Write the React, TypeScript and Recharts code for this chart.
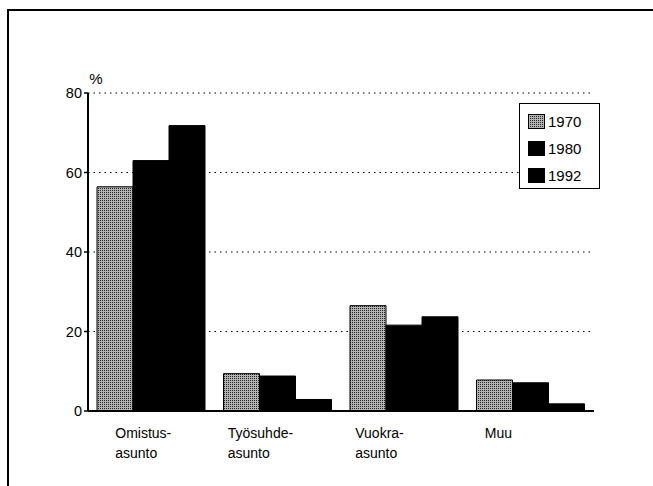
import React from "react";
import { BarChart, Bar, XAxis, YAxis, CartesianGrid } from "recharts";

// Asuntojen hallintamuoto, %
const categories = [
  ["Omistus-", "asunto"],
  ["Työsuhde-", "asunto"],
  ["Vuokra-", "asunto"],
  ["Muu"],
];
const years = ["1970", "1980", "1992"];
const v1970 = [56.4, 9.4, 26.5, 7.8];
const v1980 = [63.0, 8.8, 21.6, 7.1];
const v1992 = [71.8, 2.9, 23.7, 1.8];
const yTicks = [0, 20, 40, 60, 80];

const data = categories.map((c, i) => ({
  name: c.join(" "),
  lines: c,
  y1970: v1970[i],
  y1980: v1980[i],
  y1992: v1992[i],
}));

const FONT = "'Liberation Sans', Arial, Helvetica, sans-serif";
const fills = ["url(#stipple)", "#000", "#000"];
const labelShift = [36, 50, 49, 46];

function CategoryTick(props: any) {
  const { x, y, payload, index } = props;
  const lines: string[] = data[index]?.lines ?? [payload.value];
  const sx = x - labelShift[index];
  return (
    <text x={sx} y={y} fill="#000" fontSize={14} fontFamily={FONT} textAnchor="start">
      {lines.map((l, i) => (
        <tspan key={i} x={sx} dy={i === 0 ? 19 : 20}>
          {l}
        </tspan>
      ))}
    </text>
  );
}

function LegendBox() {
  return (
    <div
      style={{
        position: "absolute",
        left: 519,
        top: 103,
        width: 81,
        height: 86,
        border: "1.5px solid #000",
        boxSizing: "border-box",
        background: "#fff",
        paddingTop: 4,
        fontFamily: FONT,
      }}
    >
      {years.map((y, i) => (
        <div key={y} style={{ display: "flex", alignItems: "center", height: 27, paddingLeft: 8 }}>
          <svg width={17} height={15} style={{ marginRight: 3 }}>
            <rect x={0.5} y={0.5} width={16} height={14} fill={fills[i]} stroke="#000" />
          </svg>
          <span style={{ fontSize: 15, color: "#000" }}>{y}</span>
        </div>
      ))}
    </div>
  );
}

export default function App() {
  return (
    <div style={{ position: "absolute", left: 0, top: 0, width: 653, height: 486, background: "#fff" }}>
      <svg width={0} height={0} style={{ position: "absolute" }}>
        <defs>
          <pattern id="stipple" width="2" height="2" patternUnits="userSpaceOnUse">
            <rect x="0" y="0" width="2" height="2" fill="#b4b4b4" />
            <rect x="0" y="0" width="1" height="1" fill="#222" />
          </pattern>
        </defs>
      </svg>
      <div
        style={{
          position: "absolute",
          left: 7,
          top: 9,
          width: 646,
          height: 477,
          borderLeft: "2px solid #000",
          borderTop: "2px solid #000",
          boxSizing: "border-box",
        }}
      />
      <BarChart
        width={653}
        height={486}
        data={data}
        margin={{ top: 93, right: 59, bottom: 0, left: 0 }}
        barCategoryGap={9}
        barGap={0}
      >
        <CartesianGrid
          vertical={false}
          stroke="#000"
          strokeDasharray="1.5 4"
          strokeWidth={1.2}
          horizontalValues={[20, 40, 60, 80]}
        />
        <XAxis
          dataKey="name"
          tick={<CategoryTick />}
          tickLine={false}
          axisLine={{ stroke: "#000", strokeWidth: 2 }}
          interval={0}
          height={75}
        />
        <YAxis
          domain={[0, 80]}
          ticks={yTicks}
          width={88}
          tickSize={4}
          tickMargin={2}
          tickLine={{ stroke: "#000", strokeWidth: 1.5 }}
          axisLine={{ stroke: "#000", strokeWidth: 2 }}
          tick={{ fill: "#000", fontSize: 14.5, fontFamily: FONT }}
          label={{ value: "%", position: "top", dx: 52, dy: -4, fill: "#000", fontSize: 15, fontFamily: FONT }}
        />
        <Bar dataKey="y1970" name="1970" fill="url(#stipple)" stroke="#000" strokeWidth={1} isAnimationActive={false} />
        <Bar dataKey="y1980" name="1980" fill="#000" stroke="#000" strokeWidth={1} isAnimationActive={false} />
        <Bar dataKey="y1992" name="1992" fill="#000" stroke="#000" strokeWidth={1} isAnimationActive={false} />
      </BarChart>
      <LegendBox />
    </div>
  );
}
